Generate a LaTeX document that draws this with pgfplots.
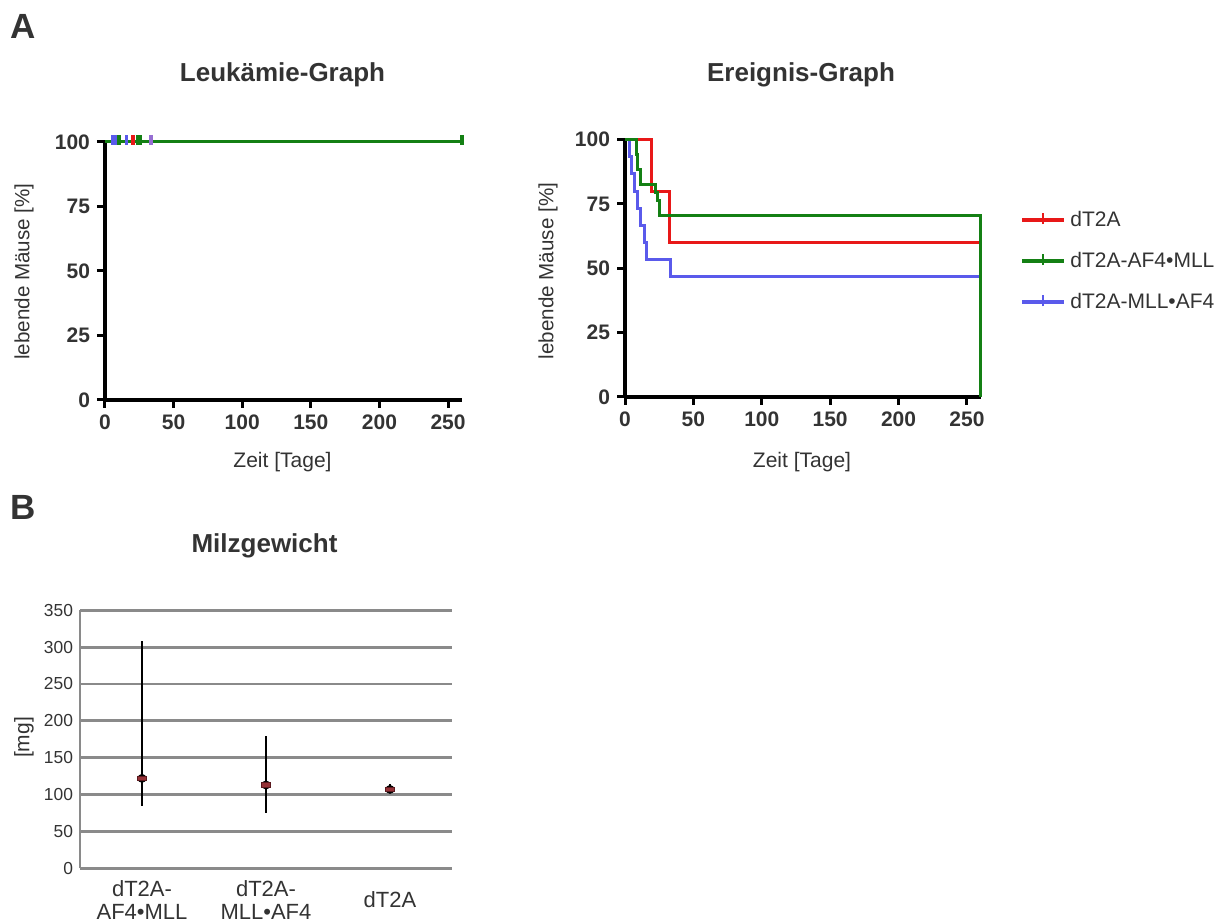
\documentclass[border=0pt]{standalone}
\usepackage{fontspec}
\setmainfont{Liberation Sans}
\usepackage{pgfplots}
\pgfplotsset{compat=1.18}

\definecolor{kmred}{RGB}{232,24,24}
\definecolor{kmgreen}{RGB}{20,128,20}
\definecolor{kmblue}{RGB}{90,90,235}
\definecolor{kmpurple}{RGB}{150,110,210}
\definecolor{txt}{RGB}{51,51,51}
\definecolor{gridgray}{RGB}{138,138,138}
\definecolor{medred}{RGB}{150,50,55}
\definecolor{meddark}{RGB}{90,25,30}

\pgfplotsset{
  km/.style={
    scale only axis, clip=false,
    axis lines=left, axis line style={line width=2pt, -},
    xmin=0, xmax=260, ymin=0, ymax=100,
    xtick={0,50,...,250}, ytick={0,25,...,100},
    tick align=outside, major tick length=4pt,
    tick style={line width=1.5pt, black},
    ticklabel style={font=\bfseries\fontsize{10.5}{12}\selectfont, text=txt},
    /pgf/number format/assume math mode=true,
  },
}

\begin{document}
\begin{tikzpicture}
\useasboundingbox (0,0) rectangle (614pt,459.5pt);

% panel labels and titles
\node[anchor=base west, inner sep=0, font=\bfseries\fontsize{17.5}{20}\selectfont, text=txt] at (5pt,440.3pt) {A};
\node[anchor=base west, inner sep=0, font=\bfseries\fontsize{17.5}{20}\selectfont, text=txt] at (5pt,199.8pt) {B};
\node[anchor=base, inner sep=0, font=\bfseries\fontsize{13}{15}\selectfont, text=txt] at (141.25pt,418.7pt) {Leukämie-Graph};
\node[anchor=base, inner sep=0, font=\bfseries\fontsize{13}{15}\selectfont, text=txt] at (400.5pt,418.7pt) {Ereignis-Graph};
\node[anchor=base, inner sep=0, font=\bfseries\fontsize{13}{15}\selectfont, text=txt] at (132.25pt,183pt) {Milzgewicht};

% axis labels
\node[rotate=90, inner sep=0, font=\fontsize{10.3}{12}\selectfont, text=txt] at (12pt,323.75pt) {lebende Mäuse [\%]};
\node[rotate=90, inner sep=0, font=\fontsize{10.3}{12}\selectfont, text=txt] at (274pt,324pt) {lebende Mäuse [\%]};
\node[inner sep=0, font=\fontsize{10.5}{12}\selectfont, text=txt] at (141.25pt,228.5pt) {Zeit [Tage]};
\node[inner sep=0, font=\fontsize{10.5}{12}\selectfont, text=txt] at (401pt,228.5pt) {Zeit [Tage]};
\node[rotate=90, inner sep=0, font=\fontsize{10.5}{12}\selectfont, text=txt] at (12pt,90.75pt) {[mg]};

% Leukaemie-Graph
\begin{axis}[km, at={(52.5pt,259.5pt)}, anchor=south west, width=178.4pt, height=129pt]
\addplot[kmgreen, line width=1.5pt] coordinates {(0,100) (260,100)};
\addplot[only marks, mark=|, mark size=2.4pt, kmblue, mark options={line width=1.8pt}] coordinates {(6,100.8) (8,100.8) (15.8,100.8)};
\addplot[only marks, mark=|, mark size=2.4pt, kmgreen, mark options={line width=1.8pt}] coordinates {(10.4,100.8) (23.6,100.8) (26,100.8) (260,100.8)};
\addplot[only marks, mark=|, mark size=2.4pt, kmred, mark options={line width=1.8pt}] coordinates {(20.2,100.8)};
\addplot[only marks, mark=|, mark size=2.4pt, kmpurple, mark options={line width=1.8pt}] coordinates {(33.5,100.8)};
\end{axis}

% Ereignis-Graph
\begin{axis}[km, at={(312.5pt,261pt)}, anchor=south west, width=177.8pt, height=128.7pt,
  legend style={at={(axis description cs:1.111,0.74)}, anchor=north west, draw=none, fill=none,
    inner sep=0pt, row sep=7.5pt, font=\fontsize{10.5}{12}\selectfont, text=txt, cells={anchor=west}},
  legend image code/.code={
    \draw[#1, line width=2pt] (0pt,0pt) -- (21pt,0pt);
    \draw[#1, line width=1pt] (10.5pt,-2pt) -- (10.5pt,3.5pt);
  },
]
\addlegendimage{kmred}
\addlegendentry{dT2A}
\addlegendimage{kmgreen}
\addlegendentry{dT2A-AF4•MLL}
\addlegendimage{kmblue}
\addlegendentry{dT2A-MLL•AF4}
\addplot[kmblue, line width=1.5pt, const plot, forget plot] coordinates {
  (0,100) (3.5,93.3) (5,86.7) (7,80) (9,73.3) (11,66.7) (14,60) (15.5,53.3) (33.5,46.7) (260,46.7)};
\addplot[kmred, line width=1.5pt, const plot, forget plot] coordinates {
  (0,100) (19.5,80) (32.5,60) (260,60)};
\addplot[kmgreen, line width=1.5pt, const plot, forget plot] coordinates {
  (0,100) (8.5,94.1) (9.5,88.2) (11,82.4) (22,79.4) (23.5,76.5) (25.5,70.6) (260,70.6) (260,0)};
\end{axis}

% Milzgewicht
\begin{axis}[at={(40pt,25.35pt)}, anchor=south west, scale only axis, width=186pt, height=129pt,
  xmin=0.5, xmax=3.5, ymin=0, ymax=350, ytick={0,50,...,350},
  xtick={1,2,3}, xticklabels={{dT2A-\\AF4•MLL},{dT2A-\\MLL•AF4},{dT2A}},
  axis x line=bottom, axis y line=left, axis line style={gridgray, line width=1pt, -},
  ymajorgrids, grid style={gridgray, line width=1.4pt}, major tick length=0pt,
  yticklabel style={font=\fontsize{8.7}{10}\selectfont, text=txt},
  xticklabel style={align=center, anchor=center, yshift=-15.85pt, font=\fontsize{11}{11.5}\selectfont, text=txt},
  /pgf/number format/assume math mode=true, clip=false,
]
\addplot[black, only marks, mark=none, error bars/.cd, y dir=both, y explicit, error mark=none,
  error bar style={line width=1pt, black}] coordinates {
  (1,122) += (0,187) -= (0,37.6)
  (2,113) += (0,66.7) -= (0,38.5)
  (3,107) += (0,7) -= (0,2)};
\addplot[only marks, mark=square*, mark size=1.2pt,
  mark options={xscale=1.9, yscale=0.95, fill=medred, draw=meddark, line width=0.5pt}] coordinates {
  (1,122) (2,113) (3,107)};
\end{axis}
\end{tikzpicture}
\end{document}
